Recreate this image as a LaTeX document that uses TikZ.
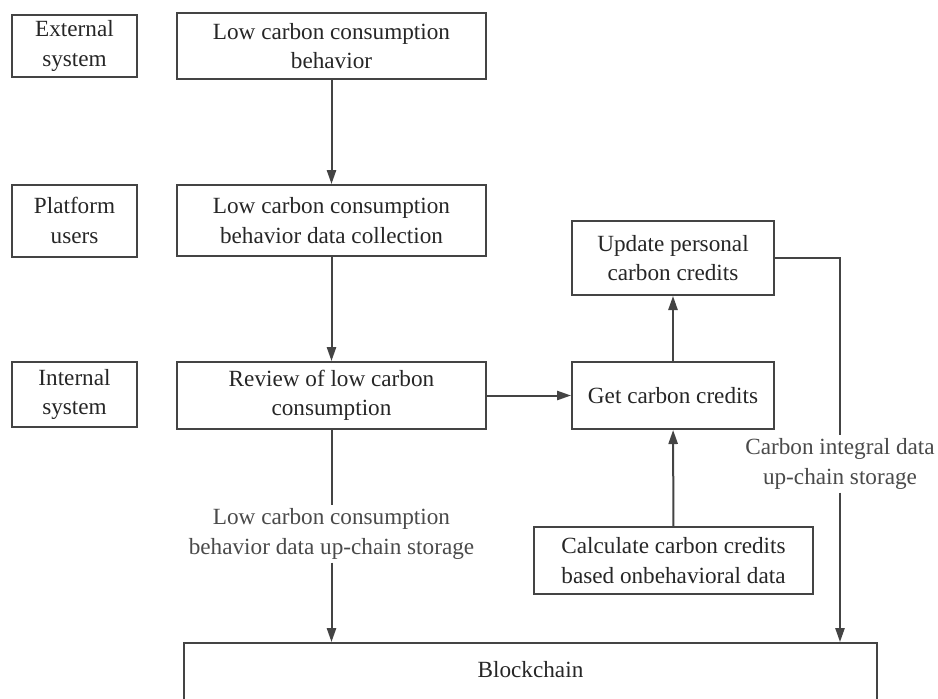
\documentclass[tikz,border=0pt]{standalone}
\usepackage{fontspec}
\setmainfont{Liberation Serif}
\usetikzlibrary{arrows.meta}
\definecolor{linegray}{HTML}{444444}
\definecolor{textgray}{HTML}{262626}
\definecolor{lblgray}{HTML}{4A4A4A}

\begin{document}
\begin{tikzpicture}[x=0.5pt,y=-0.5pt,
  font=\fontsize{11.6}{14.6}\selectfont,
  box/.style={draw=linegray, line width=1pt, text=textgray, align=center, inner sep=0pt},
  arr/.style={draw=linegray, line width=1pt, -{Triangle[length=7pt,width=4.6pt]}},
  plain/.style={draw=linegray, line width=1pt},
  lbl/.style={text=lblgray, align=center, fill=white, inner sep=1.5pt}]
  \clip (0,0) rectangle (938,698);

  %% left column
  \node[box, minimum width=62.5pt, minimum height=31pt] (ext) at (74.5,46) {External\\system};
  \node[box, minimum width=62.5pt, minimum height=36pt] (plat) at (74.5,220.5) {Platform\\users};
  \node[box, minimum width=62.5pt, minimum height=32.5pt] (intern) at (74.5,394.5) {Internal\\system};

  %% main column
  \node[box, minimum width=154.5pt, minimum height=33pt] (behav) at (331.5,46) {Low carbon consumption\\behavior};
  \node[box, minimum width=154.5pt, minimum height=35.5pt] (collect) at (331.5,220.5) {Low carbon consumption\\behavior data collection};
  \node[box, minimum width=154.5pt, minimum height=33.5pt] (review) at (331.5,395.5) {Review of low carbon\\consumption};

  %% credits
  \node[box, minimum width=101pt, minimum height=33.5pt] (get) at (673,395.5) {Get carbon credits};
  \node[box, minimum width=101pt, minimum height=37pt] (update) at (673,258) {Update personal\\carbon credits};
  \node[box, minimum width=139.5pt, minimum height=33.5pt] (calc) at (673.5,560.5) {Calculate carbon credits\\based onbehavioral data};

  %% blockchain
  \node[box, minimum width=346.5pt, minimum height=40pt] (chain) at (530.5,683) {};
  \node[text=textgray] (chaintext) at (530.5,670) {Blockchain};

  %% labels
  \node[lbl] (lowlbl) at (331.5,534) {Low carbon consumption\\behavior data up-chain storage};
  \node[lbl] (intlbl) at (840,464) {Carbon integral data\\up-chain storage};

  %% arrows
  \draw[arr] (behav) -- (collect);
  \draw[arr] (collect) -- (review);
  \draw[arr] (review) -- (get);
  \draw[arr] (get) -- (update);
  \draw[arr] (calc) -- (get);
  \draw[plain] (review) -- (lowlbl);
  \draw[arr] (lowlbl) -- (lowlbl |- chain.north);
  \draw[plain] (update.east) -| (intlbl.north);
  \draw[arr] (intlbl) -- (intlbl |- chain.north);

\end{tikzpicture}
\end{document}
